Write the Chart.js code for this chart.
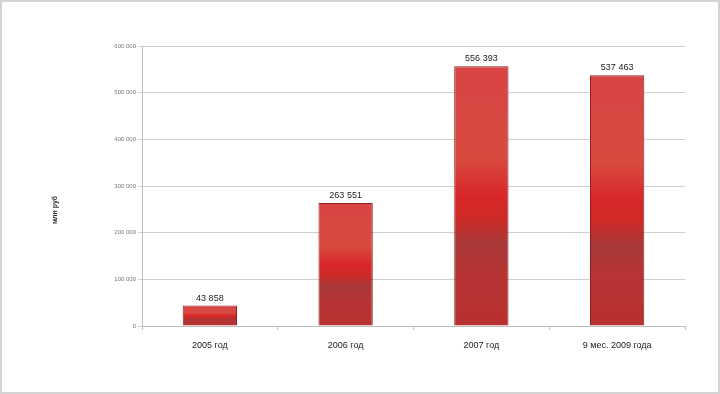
<!DOCTYPE html>
<html>
<head>
<meta charset="utf-8">
<script src="https://cdn.jsdelivr.net/npm/chart.js@4/dist/chart.umd.min.js"></script>
<style>
  html, body { margin: 0; padding: 0; background: #fff; }
  #frame { width: 720px; height: 394px; box-sizing: border-box; border: 2px solid #d4d4d4; }
  canvas { display: block; }
</style>
</head>
<body>
<div id="frame"><canvas id="chart" width="716" height="390"></canvas></div>
<script>
const categories = ['2005 год', '2006 год', '2007 год', '9 мес. 2009 года'];
const values = [43858, 263551, 556393, 537463];
const yTicks = [0, 100000, 200000, 300000, 400000, 500000, 600000];
const yTitle = 'млн руб';

const fmt = v => String(v).replace(/\B(?=(\d{3})+(?!\d))/g, ' ');

// gradient running down each bar, like the old office style
function barFill(c) {
    const chart = c.chart;
    if (!chart.chartArea) return '#c83434';
    const y = chart.scales.y;
    const top = y.getPixelForValue(c.raw);
    const bottom = y.getPixelForValue(0);
    const g = chart.ctx.createLinearGradient(0, top, 0, bottom);
    g.addColorStop(0, '#d84444');
    g.addColorStop(0.35, '#d84a40');
    g.addColorStop(0.5, '#d8262a');
    g.addColorStop(0.58, '#cf2a26');
    g.addColorStop(0.68, '#a83838');
    g.addColorStop(0.8, '#b73434');
    g.addColorStop(1, '#b83030');
    return g;
}

const valueLabels = {
    id: 'valueLabels',
    afterDatasetsDraw(chart) {
        const ctx = chart.ctx;
        const meta = chart.getDatasetMeta(0);
        ctx.save();
        ctx.font = '9px "Liberation Sans", sans-serif';
        ctx.fillStyle = '#222';
        ctx.textAlign = 'center';
        ctx.textBaseline = 'bottom';
        meta.data.forEach((bar, i) => {
            ctx.fillText(fmt(values[i]), bar.x, bar.y - 3);
        });
        // axis title sits a bit below the middle in the original
        const area = chart.chartArea;
        ctx.translate(53, (area.top + area.bottom) / 2 + 24);
        ctx.rotate(-Math.PI / 2);
        ctx.font = 'bold 7px "Liberation Sans", sans-serif';
        ctx.fillStyle = '#333';
        ctx.textBaseline = 'middle';
        ctx.fillText(yTitle, 0, 0);
        ctx.restore();
    }
};

new Chart(document.getElementById('chart'), {
    type: 'bar',
    data: {
        labels: categories,
        datasets: [{
            data: values,
            backgroundColor: barFill,
            borderColor: '#8e2020',
            borderWidth: 1,
            categoryPercentage: 1,
            barPercentage: 0.4
        }]
    },
    options: {
        responsive: false,
        animation: false,
        layout: { padding: { left: 0, right: 33, top: 44, bottom: 0 } },
        plugins: { legend: { display: false }, tooltip: { enabled: false } },
        scales: {
            x: {
                grid: { drawOnChartArea: false, drawTicks: true, tickLength: 4, color: '#bdbdbd' },
                border: { color: '#bdbdbd' },
                ticks: { padding: 10, color: '#222', font: { family: '"Liberation Sans", sans-serif', size: 9 } },
                afterFit: s => { s.height = 66; }
            },
            y: {
                min: 0,
                max: 600000,
                afterBuildTicks: s => { s.ticks = yTicks.map(v => ({ value: v })); },
                grid: { color: '#cfcfcf', tickLength: 4 },
                border: { color: '#bdbdbd' },
                ticks: {
                    padding: 2,
                    color: '#777',
                    font: { family: '"Liberation Sans", sans-serif', size: 6 },
                    callback: v => fmt(v)
                },
                afterFit: s => { s.width = 140; }
            }
        }
    },
    plugins: [valueLabels]
});
</script>
</body>
</html>
